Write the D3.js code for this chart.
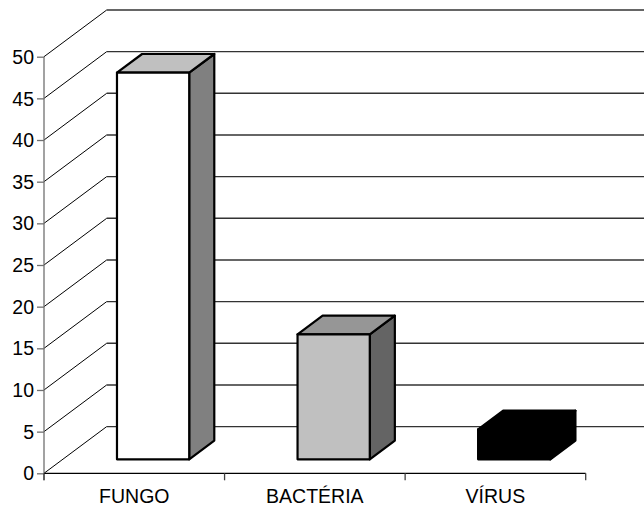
<!DOCTYPE html>
<html>
<head>
<meta charset="utf-8">
<script src="https://cdn.jsdelivr.net/npm/d3@7"></script>
<style>
  html, body { margin: 0; padding: 0; background: #fff; }
  svg { display: block; }
  text { font-family: Arial, "Liberation Sans", sans-serif; fill: #000; }
</style>
</head>
<body>
<svg id="chart" width="644" height="507"></svg>
<script>
// Data
const categories = ["FUNGO", "BACTÉRIA", "VÍRUS"];
const values = [46.4, 15.0, 3.6];
const yTicks = [0, 5, 10, 15, 20, 25, 30, 35, 40, 45, 50];

// Bar face colours: front, top, side
const faceFront = ["#ffffff", "#c0c0c0", "#000000"];
const faceTop   = ["#c0c0c0", "#969696", "#000000"];
const faceSide  = ["#808080", "#646464", "#000000"];

const svg = d3.select("#chart");

// Front plane of the 3D box
const plotLeft = 44, plotRight = 585.7, plotBottom = 473.3, plotTop = 56.7;
// Depth vector of the box (front to back wall)
const depth = { dx: 62.7, dy: -46.7 };
// Bars sit between these depth fractions
const barFront = 0.3, barBack = 0.7;

const x = d3.scaleBand().domain(categories).range([plotLeft, plotRight]).paddingInner(0.6).paddingOuter(0.3);
const y = d3.scaleLinear().domain([0, 50]).range([plotBottom, plotTop]);

const shift = (p, f) => [p[0] + depth.dx * f, p[1] + depth.dy * f];

// Back wall gridlines and left wall diagonals
const grid = svg.append("g");
yTicks.forEach(v => {
  const front = [plotLeft, y(v)];
  const back = shift(front, 1);
  grid.append("line")
    .attr("x1", front[0]).attr("y1", front[1])
    .attr("x2", back[0]).attr("y2", back[1])
    .attr("stroke", "#000").attr("stroke-width", 1);
  grid.append("line")
    .attr("x1", back[0]).attr("y1", back[1])
    .attr("x2", 660).attr("y2", back[1])
    .attr("stroke", "#333").attr("stroke-width", 1.4);
});

// Bars as extruded boxes
const bars = svg.append("g");
categories.forEach((c, i) => {
  const x0 = x(c), x1 = x(c) + x.bandwidth();
  const v = values[i];
  const fbl = shift([x0, y(0)], barFront), fbr = shift([x1, y(0)], barFront);
  const ftl = shift([x0, y(v)], barFront), ftr = shift([x1, y(v)], barFront);
  const d = barBack - barFront;
  const btl = shift(ftl, d), btr = shift(ftr, d), bbr = shift(fbr, d);
  const line = d3.line();
  const stroke = "#000", sw = 2.2;
  bars.append("path").attr("d", line([fbr, ftr, btr, bbr]) + "Z")
    .attr("fill", faceSide[i]).attr("stroke", stroke).attr("stroke-width", sw).attr("stroke-linejoin", "round");
  bars.append("path").attr("d", line([ftl, ftr, btr, btl]) + "Z")
    .attr("fill", faceTop[i]).attr("stroke", stroke).attr("stroke-width", sw).attr("stroke-linejoin", "round");
  bars.append("path").attr("d", line([fbl, fbr, ftr, ftl]) + "Z")
    .attr("fill", faceFront[i]).attr("stroke", stroke).attr("stroke-width", sw).attr("stroke-linejoin", "round");
});

// Value axis
const yAxis = svg.append("g").attr("transform", `translate(${plotLeft},0)`)
  .call(d3.axisLeft(y).tickValues(yTicks).tickSize(7).tickPadding(3).tickFormat(d3.format("d")));
yAxis.select(".domain").attr("d", `M0,${plotTop}V${plotBottom + 7}`).attr("stroke", "#707070").attr("stroke-width", 1.3);
yAxis.selectAll(".tick line").attr("stroke", "#707070").attr("stroke-width", 1.3);
yAxis.selectAll(".tick text").attr("font-size", "19.5px").attr("font-family", "Arial, 'Liberation Sans', sans-serif")
  .attr("fill", "#000").attr("dy", "0.34em");

// Category axis
const xAxis = svg.append("g").attr("transform", `translate(0,${plotBottom})`);
xAxis.append("line").attr("x1", plotLeft).attr("x2", plotRight).attr("y1", 0).attr("y2", 0)
  .attr("stroke", "#000").attr("stroke-width", 1.3);
const bounds = [plotLeft].concat(categories.map(c => x(c) + x.bandwidth() + x.step() * x.paddingInner() / 2));
bounds[bounds.length - 1] = plotRight;
bounds.forEach(b => {
  xAxis.append("line").attr("x1", b).attr("x2", b).attr("y1", 0).attr("y2", 7)
    .attr("stroke", "#404040").attr("stroke-width", 1.3);
});
xAxis.selectAll("text.cat").data(categories).join("text")
  .attr("class", "cat")
  .attr("x", c => x(c) + x.bandwidth() / 2)
  .attr("y", 30)
  .attr("text-anchor", "middle")
  .attr("font-size", "19.5px")
  .text(c => c);
</script>
</body>
</html>
